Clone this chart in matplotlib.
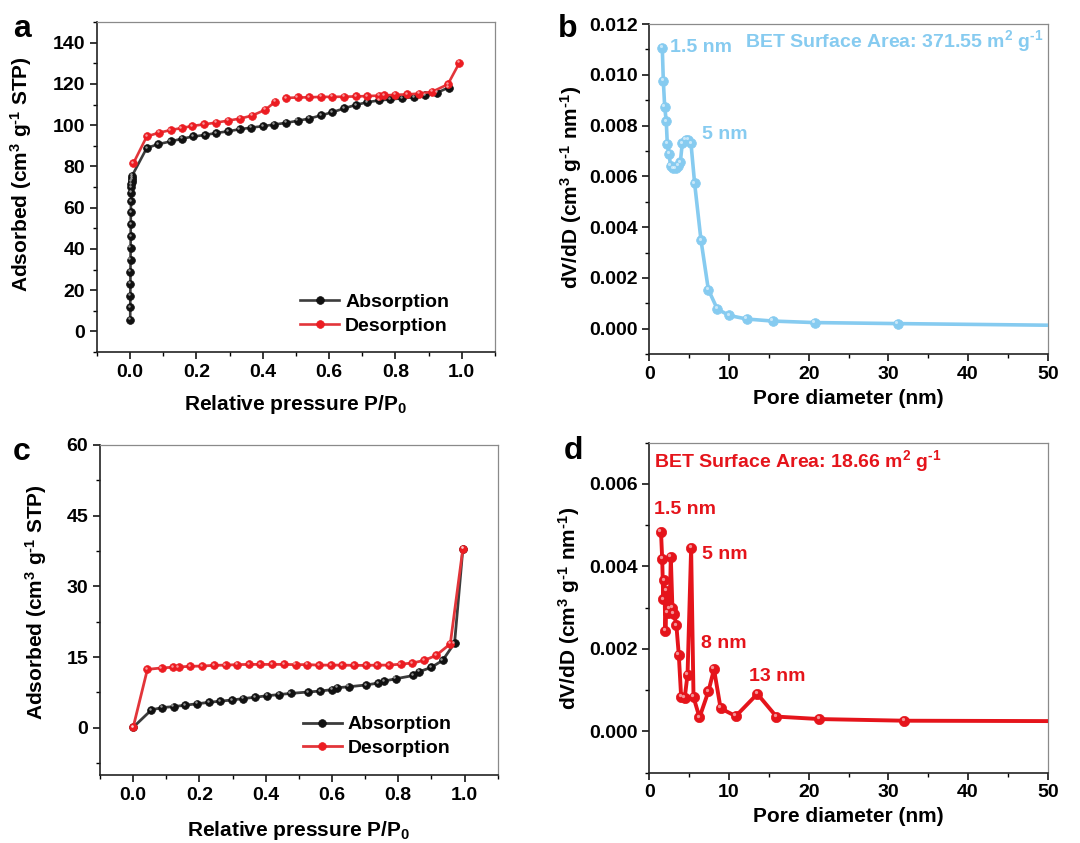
import matplotlib
matplotlib.use("Agg")
import matplotlib.pyplot as plt
import numpy as np
from matplotlib.ticker import MultipleLocator, FormatStrFormatter
from matplotlib.transforms import offset_copy

plt.rcParams['font.family'] = ['Liberation Sans', 'DejaVu Sans']
plt.rcParams['font.weight'] = 'bold'
plt.rcParams['mathtext.fontset'] = 'custom'
plt.rcParams['mathtext.rm'] = 'Liberation Sans:bold'
plt.rcParams['mathtext.bf'] = 'Liberation Sans:bold'
plt.rcParams['mathtext.it'] = 'Liberation Sans:bold:italic'
plt.rcParams['mathtext.default'] = 'rm'

# ---- (a) N2 isotherm, sample 1
a_ads_p = [0.0002, 0.0004, 0.0006, 0.0008, 0.001, 0.0012, 0.0014, 0.0016, 0.0018, 0.002,
           0.0025, 0.003, 0.0035, 0.004, 0.0045, 0.005, 0.0055, 0.006,
           0.05, 0.085, 0.122, 0.156, 0.19, 0.225, 0.26, 0.295, 0.33, 0.365, 0.40,
           0.435, 0.47, 0.505, 0.54, 0.575, 0.61, 0.645, 0.68, 0.715, 0.75, 0.785,
           0.82, 0.855, 0.89, 0.925, 0.96]
a_ads_v = [5.7, 11.8, 17.4, 23.2, 29.0, 34.7, 40.6, 46.1, 51.9, 57.7,
           63.0, 67.2, 69.8, 71.5, 72.5, 73.5, 74.5, 75.5,
           88.9, 90.8, 92.1, 93.4, 94.5, 95.2, 96.2, 97.0, 98.0, 98.8, 99.5,
           100.3, 101.1, 102.1, 103.2, 104.7, 106.3, 108.1, 109.8, 111.1, 112.0, 112.5,
           113.0, 113.6, 114.4, 115.7, 118.2]
a_des_p = [0.01, 0.05, 0.086, 0.122, 0.155, 0.188, 0.223, 0.258, 0.296, 0.332,
           0.367, 0.407, 0.438, 0.469, 0.505, 0.54, 0.575, 0.61, 0.646, 0.681,
           0.715, 0.75, 0.765, 0.80, 0.835, 0.871, 0.911, 0.958, 0.993]
a_des_v = [81.6, 94.5, 96.3, 97.6, 98.6, 99.6, 100.4, 101.2, 102.2, 103.2,
           104.6, 107.4, 111.4, 113.2, 113.4, 113.5, 113.7, 113.7, 113.8, 113.9,
           114.1, 114.3, 114.4, 114.7, 114.9, 115.3, 116.2, 119.8, 130.3]
a_des_break = 13  # desorption trace has a gap after this point

# ---- (b) BJH pore size distribution, sample 1
b_d = [1.63, 1.76, 1.93, 2.13, 2.26, 2.47, 2.68, 2.97, 3.3, 3.6, 3.89, 4.14,
       4.56, 4.9, 5.23, 5.69, 6.49, 7.41, 8.54, 10.04, 12.22, 15.49, 20.76, 31.17, 52.0]
b_dv = [0.01105, 0.00977, 0.00874, 0.00817, 0.00727, 0.0069, 0.0064, 0.00631,
        0.00631, 0.0064, 0.00655, 0.0073, 0.00745, 0.00744, 0.0073, 0.00572,
        0.00348, 0.00154, 0.00077, 0.00052, 0.00038, 0.0003, 0.00024, 0.0002, 0.00013]

# ---- (c) N2 isotherm, sample 2
c_ads_p = [0.0, 0.055, 0.088, 0.122, 0.157, 0.193, 0.228, 0.262, 0.298, 0.333,
           0.369, 0.404, 0.44, 0.475, 0.529, 0.564, 0.60, 0.615, 0.65, 0.704,
           0.74, 0.757, 0.792, 0.846, 0.863, 0.899, 0.934, 0.97, 0.995]
c_ads_v = [0.1, 3.8, 4.3, 4.5, 4.8, 5.1, 5.4, 5.65, 5.9, 6.2,
           6.5, 6.8, 7.05, 7.3, 7.6, 7.8, 8.1, 8.5, 8.7, 9.1,
           9.5, 9.9, 10.4, 11.1, 11.9, 12.8, 14.3, 18.0, 38.0]
c_des_p = [0.0, 0.043, 0.086, 0.12, 0.137, 0.172, 0.208, 0.243, 0.279, 0.313,
           0.349, 0.384, 0.419, 0.455, 0.49, 0.526, 0.561, 0.597, 0.631, 0.667,
           0.703, 0.737, 0.772, 0.807, 0.843, 0.878, 0.914, 0.957, 0.995]
c_des_v = [0.1, 12.4, 12.7, 12.85, 12.9, 13.05, 13.1, 13.25, 13.3, 13.4,
           13.45, 13.45, 13.45, 13.45, 13.4, 13.4, 13.3, 13.3, 13.3, 13.25,
           13.25, 13.3, 13.3, 13.5, 13.75, 14.3, 15.35, 17.8, 38.0]

# ---- (d) BJH pore size distribution, sample 2
d_d = [1.47, 1.62, 1.75, 1.88, 2.02, 2.2, 2.35, 2.55, 2.7, 2.9, 3.1, 3.4, 3.7,
       4.0, 4.45, 4.8, 5.25, 5.55, 6.3, 7.42, 8.12, 8.95, 10.85, 13.56, 15.95,
       21.35, 32.0, 52.0]
d_dv = [0.00483, 0.00418, 0.0032, 0.00366, 0.00243, 0.0034, 0.00288, 0.00296,
        0.00423, 0.003, 0.00285, 0.00257, 0.00186, 0.00083, 0.00082, 0.00138,
        0.00444, 0.00083, 0.00034, 0.00097, 0.00151, 0.00056, 0.00037, 0.00091,
        0.00036, 0.0003, 0.00026, 0.00025]

GRAY_LINE = '#3c3c3c'
BLACK_MK = '#111111'
RED_LINE = '#e2353a'
RED_MK = '#ec1c22'
BLUE = '#86cbf0'
RED_D = '#e5141b'

SUP_M1 = r'$^{\text{-}1}$'

fig = plt.figure(figsize=(10.8, 8.43), dpi=100)
ax_a = fig.add_axes([0.0898, 0.5824, 0.3685, 0.3915])
ax_b = fig.add_axes([0.6012, 0.5800, 0.3689, 0.3915])
ax_c = fig.add_axes([0.0926, 0.0807, 0.3682, 0.3915])
ax_d = fig.add_axes([0.6012, 0.0834, 0.3689, 0.3915])


def shiny(ax, x, y, color, ms, lw, line_color=None, label=None):
    """Line + ball markers with a small highlight to look like spheres."""
    ln, = ax.plot(x, y, '-', color=line_color or color, lw=lw, marker='o',
                  ms=ms, mfc=color, mec=color, mew=0.5, label=label,
                  clip_on=True, zorder=3)
    hl = offset_copy(ax.transData, fig=fig, x=-ms * 0.15, y=ms * 0.18, units='points')
    ax.plot(x, y, 'o', ms=ms * 0.32, color='white', alpha=0.55, mew=0,
            transform=hl, zorder=4)
    return ln


def style(ax, xmaj, xmin, ymaj, ymin):
    ax.xaxis.set_major_locator(MultipleLocator(xmaj))
    ax.xaxis.set_minor_locator(MultipleLocator(xmin))
    ax.yaxis.set_major_locator(MultipleLocator(ymaj))
    ax.yaxis.set_minor_locator(MultipleLocator(ymin))
    ax.tick_params(which='major', direction='out', length=5, width=1.1,
                   labelsize=14, pad=3.5)
    ax.tick_params(which='minor', direction='out', length=3, width=1.0)
    ax.tick_params(top=False, right=False, which='both')
    for s in ('left', 'bottom'):
        ax.spines[s].set_linewidth(1.2)
        ax.spines[s].set_color('#222222')
    for s in ('top', 'right'):
        ax.spines[s].set_linewidth(0.9)
        ax.spines[s].set_color('#8a8a8a')
    for lab in ax.get_xticklabels() + ax.get_yticklabels():
        lab.set_fontweight('bold')


# (a)
shiny(ax_a, a_ads_p, a_ads_v, BLACK_MK, 5.6, 1.9, GRAY_LINE, 'Absorption')
shiny(ax_a, a_des_p[:a_des_break], a_des_v[:a_des_break], RED_MK, 5.6, 1.9, RED_LINE, 'Desorption')
shiny(ax_a, a_des_p[a_des_break:], a_des_v[a_des_break:], RED_MK, 5.6, 1.9, RED_LINE)
ax_a.set_xlim(-0.1, 1.1)
ax_a.set_ylim(-10, 150)
style(ax_a, 0.2, 0.1, 20, 10)
ax_a.xaxis.set_major_formatter(FormatStrFormatter('%.1f'))
ax_a.set_xlabel('Relative pressure P/P$_0$', fontsize=15, fontweight='bold')
ax_a.set_ylabel('Adsorbed (cm$^3$ g' + SUP_M1 + ' STP)', fontsize=15, fontweight='bold')
ax_a.xaxis.set_label_coords(0.5, -0.125)
ax_a.yaxis.set_label_coords(-0.158, 0.54)
ax_a.legend(loc='center', bbox_to_anchor=(0.698, 0.115), frameon=False,
            fontsize=14, handlelength=2.0, handletextpad=0.3, labelspacing=0.3,
            numpoints=1, borderpad=0.2)

# (b)
shiny(ax_b, b_d, b_dv, BLUE, 7.0, 2.6)
ax_b.set_xlim(0, 50)
ax_b.set_ylim(-0.001, 0.012)
style(ax_b, 10, 5, 0.002, 0.001)
ax_b.yaxis.set_major_formatter(FormatStrFormatter('%.3f'))
ax_b.set_xlabel('Pore diameter (nm)', fontsize=15, fontweight='bold')
ax_b.set_ylabel('dV/dD (cm$^3$ g' + SUP_M1 + ' nm' + SUP_M1 + ')', fontsize=15, fontweight='bold')
ax_b.xaxis.set_label_coords(0.5, -0.105)
ax_b.yaxis.set_label_coords(-0.163, 0.505)
ax_b.text(2.6, 0.01106, '1.5 nm', color=BLUE, fontsize=14, fontweight='bold', va='center')
ax_b.text(6.65, 0.00763, '5 nm', color=BLUE, fontsize=14, fontweight='bold', va='center')
ax_b.text(12.0, 0.01131, 'BET Surface Area: 371.55 m$^2$ g' + SUP_M1, color=BLUE,
          fontsize=14, fontweight='bold', va='center')

# (c)
shiny(ax_c, c_ads_p, c_ads_v, BLACK_MK, 5.6, 2.0, GRAY_LINE, 'Absorption')
shiny(ax_c, c_des_p, c_des_v, RED_MK, 5.6, 2.0, RED_LINE, 'Desorption')
ax_c.set_xlim(-0.1, 1.1)
ax_c.set_ylim(-10, 60)
style(ax_c, 0.2, 0.1, 15, 7.5)
ax_c.xaxis.set_major_formatter(FormatStrFormatter('%.1f'))
ax_c.set_xlabel('Relative pressure P/P$_0$', fontsize=15, fontweight='bold')
ax_c.set_ylabel('Adsorbed (cm$^3$ g' + SUP_M1 + ' STP)', fontsize=15, fontweight='bold')
ax_c.xaxis.set_label_coords(0.5, -0.133)
ax_c.yaxis.set_label_coords(-0.128, 0.525)
ax_c.legend(loc='center', bbox_to_anchor=(0.697, 0.117), frameon=False,
            fontsize=14, handlelength=2.0, handletextpad=0.3, labelspacing=0.3,
            numpoints=1, borderpad=0.2)

# (d)
shiny(ax_d, d_d, d_dv, RED_D, 7.4, 2.8)
ax_d.set_xlim(0, 50)
ax_d.set_ylim(-0.001, 0.007)
style(ax_d, 10, 5, 0.002, 0.001)
ax_d.yaxis.set_major_formatter(FormatStrFormatter('%.3f'))
ax_d.set_xlabel('Pore diameter (nm)', fontsize=15, fontweight='bold')
ax_d.set_ylabel('dV/dD (cm$^3$ g' + SUP_M1 + ' nm' + SUP_M1 + ')', fontsize=15, fontweight='bold')
ax_d.xaxis.set_label_coords(0.5, -0.105)
ax_d.yaxis.set_label_coords(-0.168, 0.498)
ax_d.text(0.6, 0.00656, 'BET Surface Area: 18.66 m$^2$ g' + SUP_M1, color=RED_D,
          fontsize=14, fontweight='bold', va='center')
ax_d.text(0.63, 0.00539, '1.5 nm', color=RED_D, fontsize=14, fontweight='bold', va='center')
ax_d.text(6.65, 0.0043, '5 nm', color=RED_D, fontsize=14, fontweight='bold', va='center')
ax_d.text(6.5, 0.00213, '8 nm', color=RED_D, fontsize=14, fontweight='bold', va='center')
ax_d.text(12.5, 0.00133, '13 nm', color=RED_D, fontsize=14, fontweight='bold', va='center')

# panel letters
for x, y, s in [(0.012, 0.956, 'a'), (0.517, 0.956, 'b'),
                (0.012, 0.454, 'c'), (0.522, 0.4555, 'd')]:
    fig.text(x, y, s, fontsize=23, fontweight='bold', va='baseline')

fig.savefig('out.png', dpi=100)
